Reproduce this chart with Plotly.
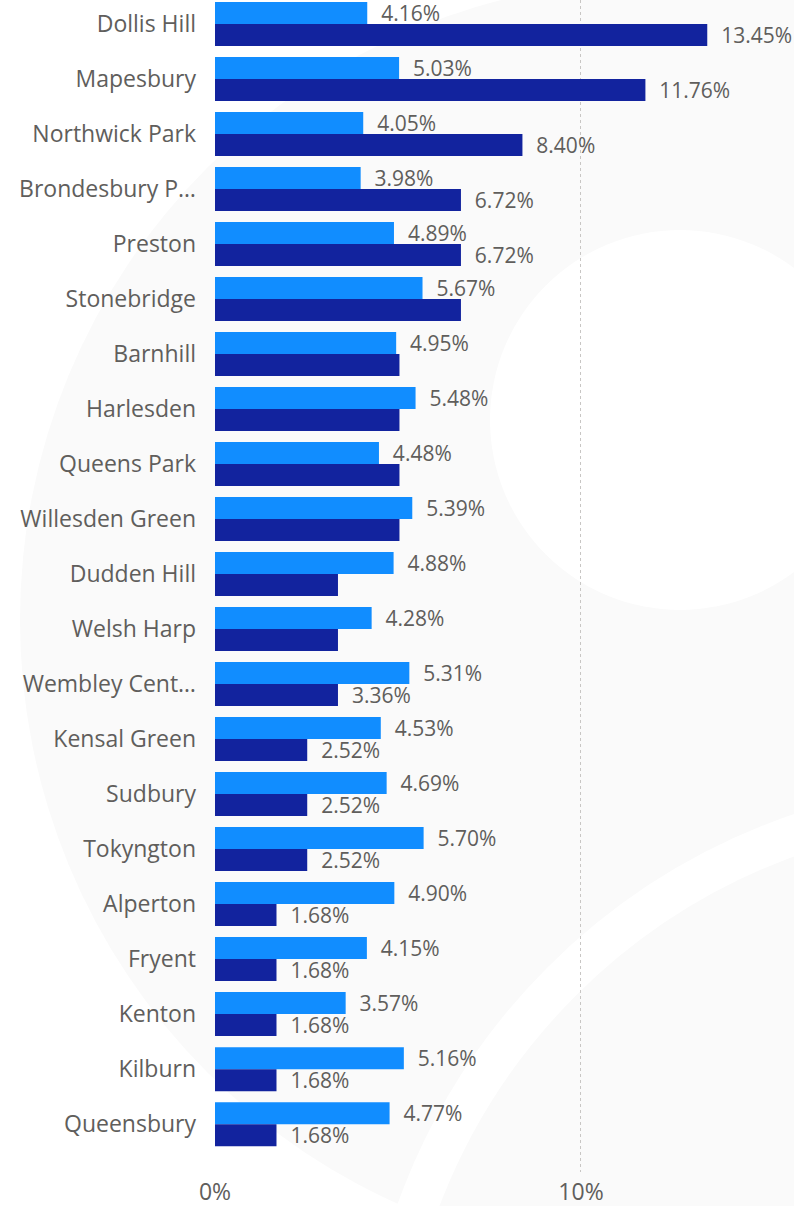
import plotly.graph_objects as go

wards = ["Dollis Hill", "Mapesbury", "Northwick Park", "Brondesbury Park", "Preston",
         "Stonebridge", "Barnhill", "Harlesden", "Queens Park", "Willesden Green",
         "Dudden Hill", "Welsh Harp", "Wembley Central", "Kensal Green", "Sudbury",
         "Tokyngton", "Alperton", "Fryent", "Kenton", "Kilburn", "Queensbury"]
ward_labels = ["Dollis Hill", "Mapesbury", "Northwick Park", "Brondesbury P…", "Preston",
               "Stonebridge", "Barnhill", "Harlesden", "Queens Park", "Willesden Green",
               "Dudden Hill", "Welsh Harp", "Wembley Cent…", "Kensal Green", "Sudbury",
               "Tokyngton", "Alperton", "Fryent", "Kenton", "Kilburn", "Queensbury"]

light_vals = [4.16, 5.03, 4.05, 3.98, 4.89, 5.67, 4.95, 5.48, 4.48, 5.39, 4.88,
              4.28, 5.31, 4.53, 4.69, 5.70, 4.90, 4.15, 3.57, 5.16, 4.77]
dark_vals = [13.45, 11.76, 8.40, 6.72, 6.72, 6.72, 5.04, 5.04, 5.04, 5.04, 3.36,
             3.36, 3.36, 2.52, 2.52, 2.52, 1.68, 1.68, 1.68, 1.68, 1.68]
# labels Power BI hid because they collided
dark_shown = [True, True, True, True, True, False, False, False, False, False, False,
              False, True, True, True, True, True, True, True, True, True]

pad = "\u00a0\u00a0"
light_text = [pad + f"{v:.2f}%" for v in light_vals]
dark_text = [pad + f"{v:.2f}%" if s else "" for v, s in zip(dark_vals, dark_shown)]

grey = "#605E5C"
font_family = "Segoe UI, Open Sans, sans-serif"

W, H = 794, 1206
ML, MB = 215, 34
PW, PH = W - ML, H - MB

fig = go.Figure()
fig.add_trace(go.Bar(y=wards, x=light_vals, orientation="h", name="Ward",
                     marker_color="#118DFF", marker_line_width=0,
                     text=light_text, textposition="outside", constraintext="none",
                     cliponaxis=False, textfont=dict(size=21, color=grey, family=font_family)))
fig.add_trace(go.Bar(y=wards, x=dark_vals, orientation="h", name="Total",
                     marker_color="#12239E", marker_line_width=0,
                     text=dark_text, textposition="outside", constraintext="none",
                     cliponaxis=False, textfont=dict(size=21, color=grey, family=font_family)))


# faint background logo watermark, positioned in page pixels
def px_circle(cx, cy, r, **kw):
    fig.add_shape(type="circle", xref="paper", yref="paper", layer="below",
                  x0=(cx - r - ML) / PW, x1=(cx + r - ML) / PW,
                  y0=(PH - (cy + r)) / PH, y1=(PH - (cy - r)) / PH, **kw)


px_circle(660, 620, 640, fillcolor="#FAFAFA", line_width=0)
px_circle(1000, 1420, 620, fillcolor="rgba(0,0,0,0)", line=dict(color="white", width=40))
px_circle(680, 420, 190, fillcolor="white", line_width=0)

fig.update_layout(
    width=W, height=H,
    margin=dict(l=ML, r=0, t=0, b=MB, autoexpand=False),
    barmode="group", bargap=0.2, bargroupgap=0,
    showlegend=False,
    plot_bgcolor="rgba(0,0,0,0)", paper_bgcolor="white",
    font=dict(family=font_family, color=grey, size=20),
)
fig.update_xaxes(range=[0, 15.82], tickvals=[0, 10], ticktext=["0%", "10%"],
                 showgrid=True, gridcolor="#C8C6C4", griddash="dot", gridwidth=1,
                 zeroline=False, showline=False, ticks="", tickfont=dict(size=23, color=grey),
                 ticklabelstandoff=4, automargin=False)
fig.update_yaxes(categoryorder="array", categoryarray=wards, range=[20.87, -0.435],
                 tickvals=wards, ticktext=ward_labels, showgrid=False, zeroline=False,
                 ticks="", tickfont=dict(size=23, color=grey), ticklabelstandoff=18,
                 automargin=False)

fig.write_html("out.html", config={"displayModeBar": False},
               post_script="document.body.style.margin='0';")
